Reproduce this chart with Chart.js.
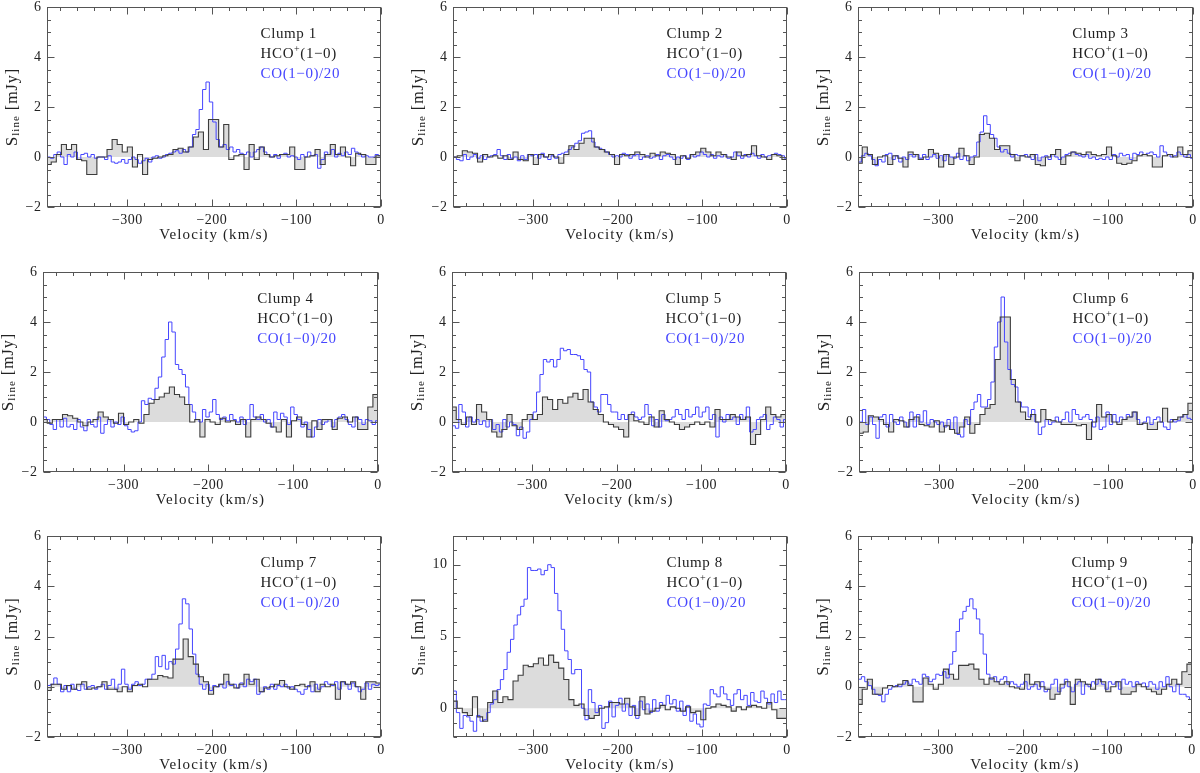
<!DOCTYPE html>
<html>
<head>
<meta charset="utf-8">
<script src="https://cdn.jsdelivr.net/npm/chart.js@4.4.1/dist/chart.umd.min.js"></script>
<style>
  html, body { margin: 0; padding: 0; background: #fff; }
  #wrap { position: relative; width: 1200px; height: 773px; overflow: hidden; }
  #wrap canvas { position: absolute; }
</style>
</head>
<body>
<div id="wrap"></div>
<script>
// ── spectra: HCO+(1-0) in 6 km/s channels, CO(1-0)/20 in 4 km/s channels [mJy] ──
const hcoStart = -393, hcoWidth = 6;
const coStart = -393, coWidth = 4;

const clumpLabels = ['Clump 1', 'Clump 2', 'Clump 3', 'Clump 4', 'Clump 5', 'Clump 6', 'Clump 7', 'Clump 8', 'Clump 9'];
const velocityTicks = [-300, -200, -100, 0];
const fluxTicks = [-2, 0, 2, 4, 6];
const fluxTicksClump8 = [0, 5, 10];

const hco1 = [-0.3,-0.2,0.1,0.5,0.3,0.5,-0.1,-0.15,-0.7,-0.7, 0.0,0.0,0.3,0.7,0.5,0.2,0.4,-0.4,0.1,-0.7,
  -0.1,-0.05,0.0,0.05,0.1,0.3,0.35,0.2,0.4,0.8, 1.0,0.3,1.5,1.5,0.4,1.3,-0.1,0.05,0.1,-0.5,
  0.5,-0.1,0.4,0.1,0.0,0.05,0.1,0.1,0.4,-0.5, -0.5,0.0,0.05,0.3,-0.3,0.1,0.5,0.1,0.4,0.0,
  -0.35,0.15,0.1,-0.3,-0.3,0.05];
const co1 = [0.0,-0.05,0.1,0.2,0.0,-0.3,0.1,0.0,0.2,-0.1, 0.1,0.15,0.0,0.1,-0.05,0.0,0.0,-0.1,0.05,-0.2,
  -0.25,-0.2,-0.1,-0.25,-0.1,0.0,-0.1,-0.25,-0.15,-0.05, -0.2,0.0,0.05,-0.05,0.0,0.1,0.15,0.2,0.25,0.15,
  0.3,0.2,0.4,0.9,1.1,1.9,2.7,3.0,2.2,1.4, 0.7,0.4,0.5,0.3,0.4,0.2,0.3,0.15,0.1,0.2,
  0.0,0.2,0.3,0.4,0.2,0.1,0.0,0.1,-0.05,0.1, 0.15,0.0,0.05,0.0,-0.1,0.1,0.0,0.2,0.05,0.1,
  -0.45,-0.1,0.2,0.1,0.3,0.0,0.15,0.05,0.2,0.1, 0.35,0.2,0.1,0.0,0.05,0.0,0.0,0.1,0.05];

const hco2 = [0.0,0.05,0.25,0.2,0.15,-0.2,0.1,0.0,0.05,-0.05, 0.05,-0.1,0.2,-0.1,-0.15,0.1,-0.3,0.1,0.0,0.1,
  0.0,-0.25,0.1,0.45,0.3,0.55,0.75,0.75,0.4,0.3, 0.2,0.1,-0.3,0.1,0.05,0.1,0.2,0.1,0.0,0.15,
  0.05,0.2,0.15,0.1,-0.3,0.05,-0.05,0.1,0.2,0.35, 0.2,0.05,0.2,0.1,0.0,-0.1,0.2,0.05,0.1,0.45,
  0.05,0.0,-0.1,0.1,0.05,-0.1];
const co2 = [0.0,-0.1,-0.15,0.1,-0.1,0.0,0.1,-0.05,0.05,-0.1, 0.0,0.05,0.1,0.3,0.05,-0.1,0.1,-0.05,0.0,-0.15,
  0.05,-0.1,0.1,0.05,0.1,-0.05,0.15,0.0,-0.1,0.05, -0.05,0.1,0.15,0.2,0.3,0.4,0.55,0.65,0.95,1.0,
  1.05,0.6,0.4,0.35,0.3,0.2,0.1,0.0,0.05,0.0, 0.15,0.1,-0.05,0.05,0.1,-0.1,0.0,0.05,-0.05,0.0,
  0.1,-0.1,0.05,0.1,0.0,-0.1,0.0,-0.05,0.05,-0.1, 0.1,0.0,0.05,0.2,0.1,0.0,0.1,-0.05,0.05,0.0,
  0.1,-0.05,0.0,0.2,0.05,-0.05,0.1,0.0,0.15,0.05, -0.05,0.1,0.0,0.05,0.1,0.15,0.1,0.05,-0.05];

const hco3 = [-0.25,0.4,0.1,-0.3,0.0,0.05,-0.3,0.05,-0.05,-0.4, 0.2,0.1,-0.1,0.0,0.3,0.15,-0.4,0.1,-0.3,0.0,
  0.35,0.05,-0.3,0.0,0.9,0.95,0.75,0.3,0.45,0.45, 0.1,-0.15,0.05,0.0,0.1,-0.3,-0.35,0.0,0.1,0.3,
  -0.3,0.05,0.2,0.15,0.1,0.2,0.1,0.05,0.1,0.4, 0.05,-0.25,-0.3,-0.25,-0.15,0.05,0.1,0.05,-0.4,-0.4,
  0.05,0.1,0.0,0.4,0.1,0.25];
const co3 = [-0.2,0.05,0.15,0.05,-0.1,-0.35,-0.1,-0.2,0.1,0.15, -0.1,0.05,-0.2,0.0,-0.1,0.1,0.0,0.1,-0.05,0.1,
  -0.1,0.0,0.1,-0.05,0.05,-0.15,0.1,0.0,-0.05,0.15, -0.1,0.05,-0.15,0.0,0.05,0.6,1.0,1.65,1.3,0.9,
  0.75,0.4,0.2,0.3,0.15,0.0,0.1,0.05,0.05,0.1, 0.0,-0.1,0.1,-0.15,0.0,0.05,-0.1,0.1,0.0,-0.1,
  0.0,0.1,0.15,0.2,0.1,0.05,0.0,0.1,-0.05,0.0, -0.1,-0.05,-0.1,0.0,-0.1,0.1,0.0,0.15,0.05,0.1,
  -0.1,0.15,0.1,0.2,0.1,0.15,0.2,0.1,0.0,0.45, 0.2,0.1,0.0,0.05,0.2,0.1,0.0,0.1,-0.05];

const hco4 = [0.1,-0.05,0.1,0.1,0.3,0.25,0.15,0.0,-0.15,0.0, 0.1,0.4,0.2,0.1,-0.05,0.35,-0.1,0.0,0.1,-0.05,
  0.3,0.75,0.9,1.0,1.15,1.4,1.1,1.0,0.7,0.0, 0.1,-0.6,0.1,0.0,-0.1,0.15,0.0,0.05,-0.1,0.1,
  -0.6,0.1,0.2,0.1,-0.05,-0.2,-0.4,0.1,-0.6,0.05, 0.2,-0.1,-0.6,0.05,-0.3,0.1,0.1,-0.3,0.15,0.2,
  0.0,0.2,-0.3,-0.3,0.6,1.1];
const co4 = [0.2,0.1,-0.1,-0.3,0.1,-0.2,0.15,-0.2,-0.1,-0.3, 0.1,-0.2,-0.35,0.1,-0.1,-0.2,0.2,-0.45,-0.1,0.1,
  -0.2,0.0,-0.1,0.2,-0.15,-0.3,-0.4,-0.35,0.0,0.85, 0.7,0.95,0.9,1.35,1.8,2.6,3.3,4.0,3.6,2.3,
  2.1,1.9,1.4,0.7,0.4,0.1,0.0,0.5,0.2,0.4, 0.9,0.3,0.1,0.2,0.05,0.3,0.1,0.0,0.2,-0.1,
  0.1,0.7,0.2,0.1,0.3,0.0,0.1,-0.2,0.4,0.1, 0.35,0.2,-0.1,0.6,0.3,0.1,-0.2,0.0,-0.3,-0.6,
  -0.2,0.1,-0.1,0.0,0.1,-0.2,0.1,0.2,0.3,0.1, -0.1,-0.2,0.2,0.1,-0.1,0.1,0.05,-0.1,0.05];

const hco5 = [0.6,0.1,-0.1,0.2,-0.1,0.7,0.4,0.1,-0.4,-0.6, -0.3,0.3,-0.15,-0.3,0.1,0.3,0.1,0.3,1.0,0.9,
  0.5,0.9,0.75,1.0,1.15,0.9,1.3,0.8,0.5,0.3, 0.0,-0.1,-0.2,-0.3,-0.6,0.3,0.05,0.0,-0.1,0.2,
  -0.2,0.45,0.1,0.0,-0.1,-0.3,-0.2,-0.1,0.0,-0.1, 0.0,-0.2,0.5,0.1,0.1,0.3,0.2,0.1,0.2,-0.9,
  -0.5,0.1,0.6,0.3,0.2,0.3];
const co5 = [-0.15,-0.25,0.7,0.4,-0.2,0.2,0.0,0.1,-0.1,0.05, -0.2,0.1,-0.3,-0.1,-0.4,0.1,-0.2,0.0,-0.1,-0.55,
  -0.2,-0.65,-0.4,0.1,0.4,1.2,1.9,2.5,2.4,2.5, 2.2,2.5,2.95,2.85,2.9,2.7,2.7,2.65,2.5,2.1,
  2.0,0.8,0.6,0.4,1.1,1.1,0.7,0.4,0.4,0.1, 0.3,0.1,0.3,0.4,0.2,0.1,0.2,0.7,0.3,-0.15,
  0.1,-0.2,0.3,0.05,0.1,0.2,0.5,0.3,0.1,0.5, 0.2,0.3,0.6,0.2,0.4,0.6,0.1,0.3,-0.6,0.2,
  0.0,0.3,0.1,0.2,-0.1,0.3,0.1,0.6,-0.4,-0.3, 0.1,0.2,0.3,-0.3,-0.1,0.2,0.1,-0.2,0.1];

const hco6 = [-0.45,-0.4,0.25,0.2,0.1,-0.1,-0.4,0.1,0.05,-0.2, 0.1,0.2,-0.1,-0.15,-0.2,0.05,-0.4,-0.15,-0.3,-0.45,
  -0.2,0.2,-0.45,-0.1,0.3,0.55,0.7,2.5,4.2,4.2, 1.7,0.8,0.4,0.1,0.3,0.0,0.5,0.1,0.05,0.0,
  -0.1,-0.1,-0.1,-0.15,-0.1,-0.7,0.0,0.7,0.2,0.3, 0.0,-0.1,0.1,0.2,0.4,-0.1,-0.05,-0.3,-0.3,0.0,
  0.55,0.0,0.1,0.2,0.3,0.75];
const co6 = [0.0,0.5,-0.1,0.2,-0.1,-0.65,0.2,0.3,-0.2,0.3, 0.0,-0.1,0.2,0.0,-0.2,0.4,-0.2,0.3,0.0,0.45,
  -0.1,0.1,0.0,-0.1,0.0,-0.2,0.1,-0.3,0.2,-0.5, -0.6,0.1,-0.1,0.5,0.8,1.1,0.6,0.6,0.9,1.6,
  3.0,4.0,5.0,3.2,2.1,1.5,1.4,0.8,0.6,0.6, 0.2,0.5,0.0,-0.5,-0.2,0.1,-0.1,0.0,0.2,0.0,
  0.1,0.4,0.0,0.5,0.3,0.1,0.2,0.3,0.1,-0.2, 0.2,-0.3,-0.2,0.4,-0.1,0.3,0.0,0.2,0.1,0.3,
  0.2,0.4,0.1,-0.1,0.0,0.2,-0.1,0.1,0.2,0.0, -0.2,-0.3,0.1,0.0,0.05,0.2,0.3,0.15,0.1];

const hco7 = [-0.15,0.1,0.1,-0.1,0.05,-0.1,0.1,0.2,-0.1,-0.05, 0.0,0.2,-0.1,-0.1,-0.2,0.0,-0.2,0.05,0.1,0.0,
  0.3,0.3,0.45,0.4,0.35,1.1,1.1,1.9,1.2,0.9, 0.4,0.2,-0.3,0.0,0.1,0.5,0.1,-0.05,0.1,0.5,
  0.1,0.3,-0.2,-0.05,0.0,0.1,0.25,0.0,-0.1,0.05, 0.1,0.0,0.2,-0.2,0.1,0.0,0.1,-0.5,0.2,0.1,
  0.2,0.0,-0.5,0.2,0.2,0.15];
const co7 = [0.05,0.1,0.35,0.1,-0.2,0.05,-0.2,0.1,-0.1,-0.15, 0.1,-0.1,0.0,0.05,-0.1,0.0,0.1,-0.1,0.05,0.3,
  -0.1,0.1,0.7,0.1,-0.1,0.1,0.2,0.05,0.1,0.3, 0.3,0.5,1.2,0.8,1.25,0.7,1.0,0.9,1.5,2.5,
  3.5,3.3,2.3,1.3,0.5,0.1,-0.1,0.1,-0.15,0.05, 0.0,0.1,-0.05,0.2,0.05,0.1,-0.05,0.15,0.0,0.3,
  0.2,0.3,-0.3,-0.2,0.0,-0.1,0.1,-0.1,0.05,0.0, 0.1,-0.05,0.0,-0.1,-0.2,-0.3,-0.1,0.05,-0.2,0.1,
  -0.1,0.0,0.2,0.1,0.05,0.2,-0.1,0.2,0.1,-0.1, 0.15,0.0,-0.2,-0.1,0.15,-0.1,0.1,0.05,0.1];

const hco8 = [0.5,0.0,-0.3,-0.5,0.8,-0.6,-0.9,0.4,1.2,0.4, 0.8,0.6,1.9,2.3,3.0,2.9,3.1,3.5,3.0,3.7,
  3.2,2.8,2.0,0.6,0.2,0.3,-0.5,-0.7,-0.5,0.0, 0.1,0.4,0.4,0.3,0.7,0.1,-0.5,0.8,-0.4,-0.2,
  0.0,0.2,-0.1,0.1,0.0,-0.2,0.1,-0.3,-0.2,-0.8, 0.0,0.1,0.3,0.2,0.1,-0.2,0.1,-0.1,0.1,0.2,
  0.1,0.0,0.4,-0.1,-0.7,-0.7];
const co8 = [1.2,-0.3,-1.4,-0.5,-0.6,-0.9,-1.6,-0.5,-0.9,-0.8, -0.3,0.3,0.6,1.3,2.0,2.7,3.9,4.8,5.8,6.5,
  7.1,7.6,9.8,9.6,9.6,9.7,9.3,9.6,10.0,9.8, 8.0,6.8,5.5,4.0,3.4,2.4,2.7,2.7,0.0,-0.8,
  1.3,0.4,-0.3,0.2,-1.4,-1.0,0.5,-0.6,0.2,0.7, -0.2,0.3,-0.5,0.2,-0.7,0.5,-0.1,0.3,-0.3,0.6,
  -0.2,0.4,0.2,0.9,0.3,0.6,-0.2,0.5,-0.5,0.2, -0.9,-0.4,-1.1,-1.3,0.3,0.2,1.3,1.0,0.8,1.5,
  1.0,0.6,0.2,1.0,1.3,0.6,0.9,0.2,1.1,0.5, 0.4,1.2,0.7,0.3,1.0,0.4,1.2,0.6,0.6];

const hco9 = [-0.7,-0.1,0.3,-0.3,-0.3,-0.05,0.05,0.0,0.1,0.25, 0.05,-0.6,-0.6,0.35,0.1,-0.1,0.1,0.7,0.5,0.3,
  0.85,0.85,0.9,0.7,0.3,0.1,0.35,0.2,0.1,0.2, 0.0,-0.05,-0.1,0.5,0.1,0.2,0.0,-0.1,-0.5,-0.3,
  0.1,0.2,-0.7,0.3,0.2,0.1,-0.1,0.3,0.2,-0.2, 0.0,0.2,-0.3,-0.3,-0.2,0.1,0.0,-0.1,-0.2,-0.3,
  -0.1,0.1,0.3,0.1,0.6,0.9];
const co9 = [0.3,0.4,0.2,0.05,-0.1,-0.3,-0.35,-0.6,-0.3,-0.1, 0.0,0.05,0.0,0.1,0.2,0.1,0.3,0.2,0.1,0.5,
  0.4,0.2,0.3,0.5,0.45,0.6,0.35,0.9,1.4,2.2, 2.7,3.0,3.2,3.5,3.1,2.7,2.1,1.3,0.5,0.3,
  0.4,0.2,0.3,0.4,0.1,0.2,0.1,0.0,0.1,0.2, -0.1,0.0,0.1,-0.1,0.2,-0.2,-0.1,0.1,0.3,-0.2,
  -0.05,0.3,0.0,-0.2,0.1,0.2,-0.3,0.1,0.0,0.2, 0.1,0.3,0.1,-0.1,0.2,0.1,0.2,-0.1,0.3,0.1,
  0.2,0.0,0.2,0.1,0.15,0.0,0.2,0.1,-0.1,0.2, 0.0,0.4,0.0,-0.2,0.1,-0.3,-0.3,-0.4,-0.5];

const hcoSpectra = [hco1, hco2, hco3, hco4, hco5, hco6, hco7, hco8, hco9];
const coSpectra = [co1, co2, co3, co4, co5, co6, co7, co8, co9];

// ── panel frames on the page: [left, top, right, bottom] in px ──
const frames = [
  [47, 7, 381, 207], [453, 7, 787, 207], [858, 7, 1193, 207],
  [43, 272, 378, 472], [452, 272, 786, 472], [859, 272, 1193, 472],
  [47, 536, 381, 737], [453, 536, 787, 737], [858, 536, 1192, 737],
];
const cellTops = [0, 258, 516];
const cellHeights = [258, 258, 257];

const FONT = "'Liberation Serif', 'DejaVu Serif', serif";
const TEXT = '#222';
const BLUE = '#4646ff';

// channel left edges -> points; value holds until the next edge
// (last edge repeats the last value to close the step)
function stepPoints(vals, start, width) {
  const pts = vals.map((s, i) => ({ x: start - width / 2 + i * width, y: s }));
  pts.push({ x: start - width / 2 + vals.length * width, y: vals[vals.length - 1] });
  return pts;
}

// frame with inward ticks on all four sides, tick labels, titles, legend text
const pgFrame = {
  id: 'pgFrame',
  afterDraw(chart, args, o) {
    const { ctx, chartArea: a, scales: { x, y } } = chart;
    const L = Math.round(a.left) + 0.5, R = Math.round(a.right) - 0.5;
    const T = Math.round(a.top) + 0.5, B = Math.round(a.bottom) - 0.5;
    ctx.save();
    ctx.strokeStyle = '#555';
    ctx.lineWidth = 1;
    ctx.strokeRect(L, T, R - L, B - T);

    ctx.beginPath();
    for (let v = -380; v <= 0; v += 20) {
      const px = Math.round(x.getPixelForValue(v)) + 0.5;
      const len = v % 100 === 0 ? 7 : 3.5;
      ctx.moveTo(px, B); ctx.lineTo(px, B - len);
      ctx.moveTo(px, T); ctx.lineTo(px, T + len);
    }
    for (let v = o.yMin; v <= o.yMax + 1e-9; v += o.yMinor) {
      const py = Math.round(y.getPixelForValue(v)) + 0.5;
      const major = o.ticks.some(t => Math.abs(t - v) < 1e-9);
      const len = major ? 7 : 3.5;
      ctx.moveTo(L, py); ctx.lineTo(L + len, py);
      ctx.moveTo(R, py); ctx.lineTo(R - len, py);
    }
    ctx.stroke();

    ctx.fillStyle = TEXT;
    ctx.font = '14px ' + FONT;
    ctx.letterSpacing = '0.5px';
    ctx.textAlign = 'center';
    ctx.textBaseline = 'middle';
    velocityTicks.forEach(v => {
      ctx.fillText(String(v).replace('-', '\u2212'), x.getPixelForValue(v), B + 13.5);
    });
    ctx.textAlign = 'right';
    o.ticks.forEach(v => {
      ctx.fillText(String(v).replace('-', '\u2212'), L - 6, y.getPixelForValue(v));
    });

    ctx.textAlign = 'center';
    ctx.font = '15px ' + FONT;
    ctx.letterSpacing = '1.1px';
    ctx.fillText('Velocity (km/s)', (L + R) / 2, B + 29);

    // y title: S_line [mJy]
    ctx.save();
    ctx.translate(L - 35, (T + B) / 2);
    ctx.rotate(-Math.PI / 2);
    ctx.textAlign = 'left';
    ctx.letterSpacing = '1px';
    const parts = [['S', '17px', 0], ['line', '11px', 4], [' [mJy]', '16px', 0]];
    let w = 0;
    parts.forEach(p => { ctx.font = p[1] + ' ' + FONT; w += ctx.measureText(p[0]).width; });
    let cx = -w / 2;
    parts.forEach(p => {
      ctx.font = p[1] + ' ' + FONT;
      ctx.fillText(p[0], cx, p[2]);
      cx += ctx.measureText(p[0]).width;
    });
    ctx.restore();

    // legend text
    const lx = L + 0.64 * (R - L);
    ctx.textAlign = 'left';
    ctx.letterSpacing = '0.6px';
    ctx.font = '15px ' + FONT;
    ctx.fillStyle = TEXT;
    ctx.fillText(o.name, lx, T + 27);
    let hx = lx;
    ctx.fillText('HCO', hx, T + 47);
    hx += ctx.measureText('HCO').width;
    ctx.font = '10px ' + FONT;
    ctx.fillText('+', hx, T + 42);
    hx += ctx.measureText('+').width;
    ctx.font = '15px ' + FONT;
    ctx.fillText('(1\u22120)', hx, T + 47);
    ctx.fillStyle = BLUE;
    ctx.fillText('CO(1\u22120)/20', lx, T + 67);
    ctx.restore();
  }
};

const wrap = document.getElementById('wrap');

frames.forEach((f, k) => {
  const col = k % 3, row = Math.floor(k / 3);
  const cellL = col * 400, cellT = cellTops[row], cellH = cellHeights[row];
  const canvas = document.createElement('canvas');
  canvas.width = 400; canvas.height = cellH;
  canvas.style.left = cellL + 'px';
  canvas.style.top = cellT + 'px';
  canvas.style.width = '400px';
  canvas.style.height = cellH + 'px';
  wrap.appendChild(canvas);

  const isBig = k === 7;
  const yMin = -2, yMax = isBig ? 12 : 6;

  new Chart(canvas, {
    type: 'line',
    data: {
      datasets: [{
        label: 'HCO+(1-0)',
        data: stepPoints(hcoSpectra[k], hcoStart, hcoWidth),
        stepped: 'before',
        borderColor: '#3c3c3c',
        borderWidth: 1.1,
        pointRadius: 0,
        fill: 'origin',
        backgroundColor: '#dcdcdc',
      }, {
        label: 'CO(1-0)/20',
        data: stepPoints(coSpectra[k], coStart, coWidth),
        stepped: 'before',
        borderColor: BLUE,
        borderWidth: 1,
        pointRadius: 0,
        fill: false,
      }]
    },
    options: {
      responsive: false,
      animation: false,
      devicePixelRatio: 1,
      layout: { padding: { left: f[0] - cellL, top: f[1] - cellT, right: cellL + 400 - f[2], bottom: cellT + cellH - f[3] } },
      scales: {
        x: { type: 'linear', min: -395, max: 0, display: false },
        y: { type: 'linear', min: yMin, max: yMax, display: false }
      },
      plugins: {
        legend: { display: false },
        tooltip: { enabled: false },
        filler: { drawTime: 'beforeDatasetsDraw' },
        pgFrame: {
          name: clumpLabels[k],
          ticks: isBig ? fluxTicksClump8 : fluxTicks,
          yMin: yMin, yMax: yMax, yMinor: isBig ? 1 : 0.5
        }
      }
    },
    plugins: [pgFrame]
  });
});
</script>
</body>
</html>
